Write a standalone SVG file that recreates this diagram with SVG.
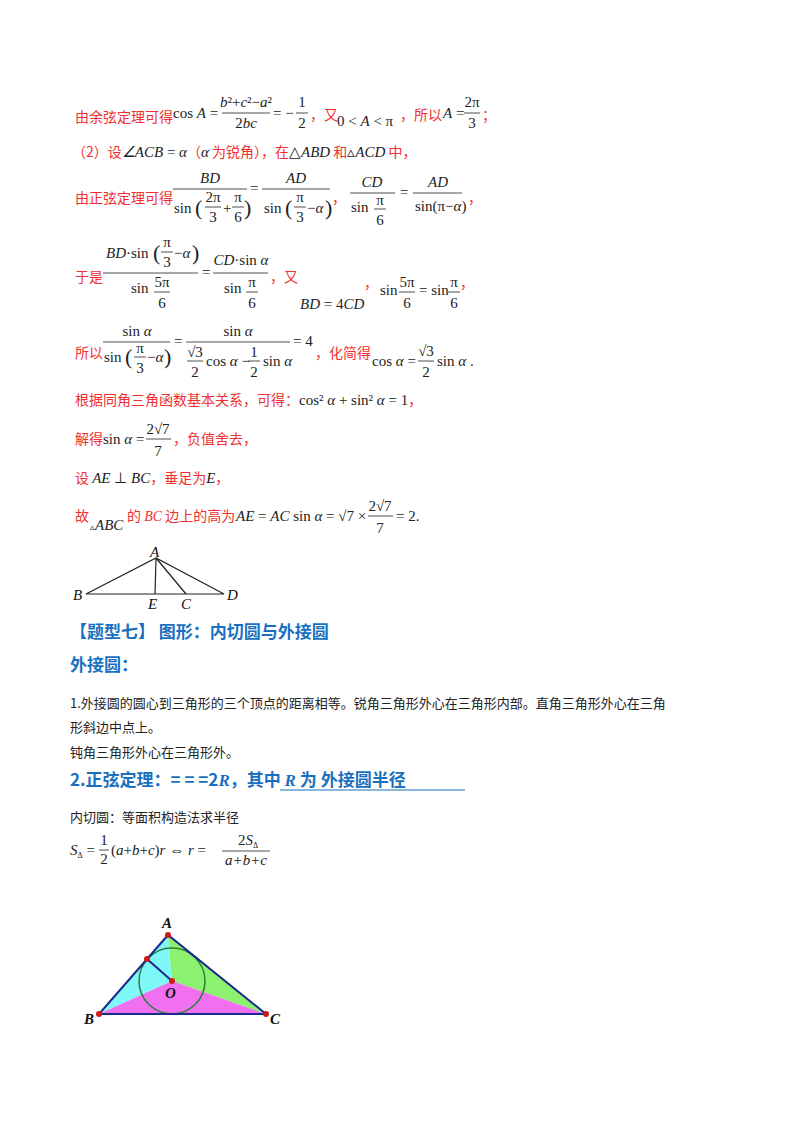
<svg xmlns="http://www.w3.org/2000/svg" width="800" height="1132" viewBox="0 0 800 1132">
<style>
.r{fill:#f03030;font-family:"Noto Sans CJK SC","Liberation Sans",sans-serif;font-size:14px}
.m{fill:#222;font-family:"Liberation Serif",serif;font-size:15px}
.i{font-style:italic}
.c{text-anchor:middle}
.b{stroke:#222;stroke-width:0.8}
.h{fill:#1a70c0;font-family:"Noto Sans CJK SC",sans-serif;font-size:17px;font-weight:bold}
.t{fill:#222;font-family:"Noto Sans CJK SC","Liberation Serif",serif;font-size:13px}
.p{fill:#222;font-family:"Liberation Serif",serif;font-size:22px}
.L{fill:#111;font-family:"Liberation Serif",serif;font-style:italic;font-size:15px}
</style>
<rect width="800" height="1132" fill="#fff"/>
<!-- line 1 -->
<text class="r" x="75" y="122">由余弦定理可得</text>
<text class="m" x="173" y="118" font-size="13">cos <tspan class="i">A</tspan> =</text>
<text class="m c" x="246" y="107" font-size="13"><tspan class="i">b</tspan>²+<tspan class="i">c</tspan>²−<tspan class="i">a</tspan>²</text>
<line class="b" x1="222" y1="113" x2="270" y2="113"/>
<text class="m c" x="246" y="128" font-size="13">2<tspan class="i">bc</tspan></text>
<text class="m" x="273" y="118" font-size="13">= −</text>
<text class="m c" x="302" y="107" font-size="13">1</text><line class="b" x1="296" y1="113" x2="308" y2="113"/><text class="m c" x="302" y="128" font-size="13">2</text>
<text class="r" x="310" y="120">，又</text>
<text class="m" x="337" y="126">0 &lt; <tspan class="i">A</tspan> &lt; π</text>
<text class="r" x="400" y="120">，所以</text>
<text class="m" x="443" y="118" font-size="13"><tspan class="i">A</tspan> =</text>
<text class="m c" x="472" y="107" font-size="13">2π</text><line class="b" x1="464" y1="113" x2="480" y2="113"/><text class="m c" x="472" y="128" font-size="13">3</text>
<text class="r" x="482" y="120">；</text>
<!-- line 2 -->
<text class="r" x="72" y="157">（2）设<tspan class="m i">∠ACB</tspan><tspan class="m"> = </tspan><tspan class="m i">α</tspan>（<tspan class="m i">α</tspan> 为锐角），在<tspan class="m">△</tspan><tspan class="m i">ABD</tspan> 和<tspan class="m" font-size="9">▵</tspan><tspan class="m i">ACD</tspan> 中，</text>
<!-- line 3 -->
<text class="r" x="75" y="203">由正弦定理可得</text>
<text class="m c i" x="210" y="183">BD</text>
<line class="b" x1="173" y1="189" x2="247" y2="189"/>
<text class="m" x="174" y="213">sin</text><text class="p" x="195" y="215">(</text>
<text class="m c" x="213" y="202">2π</text><line class="b" x1="205" y1="207" x2="221" y2="207"/><text class="m c" x="213" y="222">3</text>
<text class="m" x="223" y="213">+</text>
<text class="m c" x="238" y="202">π</text><line class="b" x1="232" y1="207" x2="244" y2="207"/><text class="m c" x="238" y="222">6</text>
<text class="p" x="244" y="215">)</text>
<text class="m" x="250" y="193">=</text>
<text class="m c i" x="296" y="183">AD</text>
<line class="b" x1="262" y1="189" x2="330" y2="189"/>
<text class="m" x="264" y="213">sin</text><text class="p" x="285" y="215">(</text>
<text class="m c" x="300" y="202">π</text><line class="b" x1="294" y1="207" x2="306" y2="207"/><text class="m c" x="300" y="222">3</text>
<text class="m" x="307" y="213">−<tspan class="i">α</tspan></text><text class="p" x="325" y="215">)</text>
<text class="r" x="332" y="203">，</text>
<text class="m c i" x="372" y="187">CD</text>
<line class="b" x1="350" y1="193" x2="395" y2="193"/>
<text class="m" x="351" y="212">sin</text>
<text class="m c" x="380" y="205">π</text><line class="b" x1="374" y1="209" x2="386" y2="209"/><text class="m c" x="380" y="225">6</text>
<text class="m" x="400" y="197">=</text>
<text class="m c i" x="438" y="187">AD</text>
<line class="b" x1="413" y1="193" x2="462" y2="193"/>
<text class="m" x="415" y="211">sin(π−<tspan class="i">α</tspan>)</text>
<text class="r" x="468" y="203">，</text>
<!-- line 4 -->
<text class="r" x="75" y="282">于是</text>
<text class="m" x="106" y="258"><tspan class="i">BD</tspan>·sin</text><text class="p" x="153" y="260">(</text>
<text class="m c" x="167" y="247">π</text><line class="b" x1="161" y1="252" x2="173" y2="252"/><text class="m c" x="167" y="267">3</text>
<text class="m" x="174" y="258">−<tspan class="i">α</tspan></text><text class="p" x="192" y="260">)</text>
<line class="b" x1="103" y1="273" x2="198" y2="273"/>
<text class="m" x="131" y="293">sin</text>
<text class="m c" x="162" y="287">5π</text><line class="b" x1="154" y1="292" x2="170" y2="292"/><text class="m c" x="162" y="308">6</text>
<text class="m" x="202" y="277">=</text>
<text class="m c" x="241" y="265"><tspan class="i">CD</tspan>·sin <tspan class="i">α</tspan></text>
<line class="b" x1="213" y1="273" x2="268" y2="273"/>
<text class="m" x="224" y="293">sin</text>
<text class="m c" x="252" y="287">π</text><line class="b" x1="246" y1="292" x2="258" y2="292"/><text class="m c" x="252" y="308">6</text>
<text class="r" x="270" y="282">，又</text>
<text class="m" x="300" y="309"><tspan class="i">BD</tspan> = 4<tspan class="i">CD</tspan></text>
<text class="r" x="364" y="288">，</text>
<text class="m" x="380" y="295">sin</text>
<text class="m c" x="407" y="287">5π</text><line class="b" x1="399" y1="292" x2="415" y2="292"/><text class="m c" x="407" y="308">6</text>
<text class="m" x="419" y="295">= sin</text>
<text class="m c" x="454" y="287">π</text><line class="b" x1="448" y1="292" x2="460" y2="292"/><text class="m c" x="454" y="308">6</text>
<text class="r" x="460" y="288">，</text>
<!-- line 5 -->
<text class="r" x="75" y="358">所以</text>
<text class="m c" x="137" y="336">sin <tspan class="i">α</tspan></text>
<line class="b" x1="103" y1="342" x2="170" y2="342"/>
<text class="m" x="104" y="362">sin</text><text class="p" x="125" y="364">(</text>
<text class="m c" x="140" y="353">π</text><line class="b" x1="134" y1="357" x2="146" y2="357"/><text class="m c" x="140" y="373">3</text>
<text class="m" x="147" y="362">−<tspan class="i">α</tspan></text><text class="p" x="164" y="364">)</text>
<text class="m" x="174" y="346">=</text>
<text class="m c" x="238" y="336">sin <tspan class="i">α</tspan></text>
<line class="b" x1="186" y1="342" x2="290" y2="342"/>
<text class="m c" x="195" y="357">√3</text><line class="b" x1="187" y1="361" x2="203" y2="361"/><text class="m c" x="195" y="377">2</text>
<text class="m" x="206" y="366">cos <tspan class="i">α</tspan> −</text>
<text class="m c" x="254" y="357">1</text><line class="b" x1="248" y1="361" x2="260" y2="361"/><text class="m c" x="254" y="377">2</text>
<text class="m" x="263" y="366">sin <tspan class="i">α</tspan></text>
<text class="m" x="293" y="346">= 4</text>
<text class="r" x="315" y="358">，化简得</text>
<text class="m" x="372" y="366">cos <tspan class="i">α</tspan> =</text>
<text class="m c" x="426" y="356">√3</text><line class="b" x1="418" y1="361" x2="434" y2="361"/><text class="m c" x="426" y="377">2</text>
<text class="m" x="437" y="366">sin <tspan class="i">α</tspan> .</text>
<!-- line 6 -->
<text class="r" x="75" y="405">根据同角三角函数基本关系，可得：<tspan class="m">cos² <tspan class="i">α</tspan> + sin² <tspan class="i">α</tspan> = 1</tspan>，</text>
<!-- line 7 -->
<text class="r" x="75" y="444">解得</text>
<text class="m" x="103" y="444">sin <tspan class="i">α</tspan> =</text>
<text class="m c" x="158" y="434">2√7</text><line class="b" x1="146" y1="439" x2="171" y2="439"/><text class="m c" x="158" y="456">7</text>
<text class="r" x="173" y="444">，负值舍去，</text>
<!-- line 8 -->
<text class="r" x="75" y="483">设 <tspan class="m i" font-size="12">AE</tspan><tspan class="m" font-size="12"> ⊥ </tspan><tspan class="m i" font-size="12">BC</tspan>，垂足为<tspan class="m i">E</tspan>，</text>
<!-- line 9 -->
<text class="r" x="75" y="521">故</text>
<text class="m" x="90" y="530"><tspan font-size="9">▵</tspan><tspan class="i">ABC</tspan></text>
<text class="r" x="127" y="521">的 <tspan class="i" font-family="Liberation Serif">BC</tspan> 边上的高为</text>
<text class="m" x="236" y="521"><tspan class="i">AE</tspan> = <tspan class="i">AC</tspan> sin <tspan class="i">α</tspan> = √7 ×</text>
<text class="m c" x="380" y="511">2√7</text><line class="b" x1="368" y1="516" x2="393" y2="516"/><text class="m c" x="380" y="533">7</text>
<text class="m" x="396" y="521">= 2.</text>
<!-- triangle ABD -->
<g id="tri1" fill="none" stroke="#222" stroke-width="1.2">
<path d="M86 594 L224 594 L156 558 Z M156 558 L155 594 M156 558 L186 594"/>
</g>
<g class="L"><text x="150" y="557">A</text><text x="73" y="600">B</text><text x="148" y="609">E</text><text x="181" y="609">C</text><text x="227" y="600">D</text></g>
<!-- headings -->
<text class="h" x="70" y="638">【题型七】 图形：内切圆与外接圆</text>
<text class="h" x="70" y="671">外接圆：</text>
<text class="t" x="70" y="708">1.外接圆的圆心到三角形的三个顶点的距离相等。锐角三角形外心在三角形内部。直角三角形外心在三角</text>
<text class="t" x="70" y="732">形斜边中点上。</text>
<text class="t" x="70" y="757">钝角三角形外心在三角形外。</text>
<text class="h" x="70" y="786">2.正弦定理：= = =2<tspan font-family="Liberation Serif" font-style="italic">R</tspan>，其中 <tspan font-family="Liberation Serif" font-style="italic">R</tspan> 为 外接圆半径</text>
<line x1="280" y1="790" x2="465" y2="790" stroke="#1a70c0" stroke-width="1.2"/>
<text class="t" x="70" y="822">内切圆：等面积构造法求半径</text>
<text class="m" x="70" y="855" font-size="14"><tspan class="i">S</tspan><tspan font-size="8" dy="3">Δ</tspan><tspan dy="-3"> =</tspan></text>
<text class="m c" x="104" y="845" font-size="14">1</text><line class="b" x1="99" y1="850" x2="109" y2="850"/><text class="m c" x="104" y="864" font-size="14">2</text>
<text class="m" x="111" y="855" font-size="14">(<tspan class="i">a</tspan>+<tspan class="i">b</tspan>+<tspan class="i">c</tspan>)<tspan class="i">r</tspan> ⇔ <tspan class="i">r</tspan> =</text>
<text class="m c" x="248" y="845" font-size="14">2<tspan class="i">S</tspan><tspan font-size="8" dy="3">Δ</tspan></text>
<line class="b" x1="222" y1="851" x2="270" y2="851"/>
<text class="m c i" x="246" y="865" font-size="14">a+b+c</text>
<!-- incircle figure -->
<g id="incircle">
<polygon points="168,935 99,1014 172,981" fill="#7ff8f8"/>
<polygon points="168,935 266,1014 172,981" fill="#8cf070"/>
<polygon points="99,1014 266,1014 172,981" fill="#f070f0"/>
<circle cx="172" cy="981" r="33" fill="none" stroke="#2e7d3a" stroke-width="1.5"/>
<polygon points="168,935 99,1014 266,1014" fill="none" stroke="#1a2a8a" stroke-width="2"/>
<line x1="147" y1="959" x2="172" y2="981" stroke="#1a2a8a" stroke-width="2"/>
<g fill="#d01818"><circle cx="168" cy="935" r="3"/><circle cx="99" cy="1014" r="3"/><circle cx="266" cy="1014" r="3"/><circle cx="172" cy="981" r="3"/><circle cx="147" cy="959" r="3"/></g>
<g class="L" font-weight="bold" font-size="13"><text x="162" y="928">A</text><text x="84" y="1024">B</text><text x="270" y="1024">C</text><text x="165" y="998">O</text></g>
</g>
</svg>
